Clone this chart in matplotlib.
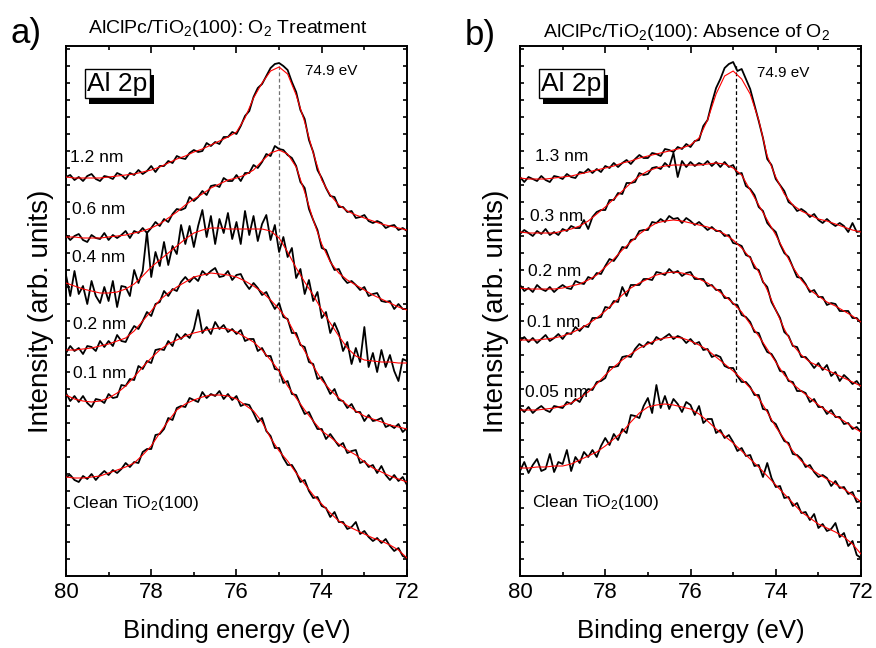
import numpy as np
import matplotlib.pyplot as plt
from matplotlib.ticker import MultipleLocator
from matplotlib import patheffects

plt.rcParams['font.family'] = ['Liberation Sans', 'DejaVu Sans']
plt.rcParams['mathtext.fontset'] = 'custom'
plt.rcParams['mathtext.rm'] = 'Liberation Sans'
plt.rcParams['mathtext.it'] = 'Liberation Sans:italic'

# binding energy grid (eV): measured points every 0.1 eV, fit curves every 0.2 eV
energy = np.linspace(80, 72, 81)
energy_fit = np.linspace(80, 72, 41)

# ---- panel a) O2 treatment, stacked Al 2p spectra (arb. units) ----
a_12nm = [399, 401, 396, 399, 395, 400, 402, 397, 395, 400, 399, 397, 403, 401, 397, 403, 401, 406, 402, 405,
          410, 404, 410, 410, 415, 413, 420, 418, 417, 423, 426, 424, 425, 433, 430, 434, 432, 439, 439, 444,
          442, 450, 460, 465, 479, 488, 492, 500, 508, 512, 513, 510, 506, 494, 484, 466, 457, 436, 424, 406,
          398, 388, 380, 379, 369, 369, 364, 365, 358, 359, 361, 355, 353, 355, 353, 348, 350, 351, 346, 348, 345]
a_12nm_fit = [399, 398, 398, 398, 398, 399, 400, 401, 402, 404, 406, 409, 413, 417, 420, 424, 427, 431, 435, 439,
              444, 458, 478, 493, 505, 509, 502, 481, 454, 423, 396, 381, 371, 365, 361, 358, 355, 352, 350, 348, 346]

a_06nm = [341, 336, 340, 342, 336, 334, 341, 338, 337, 343, 336, 341, 338, 341, 345, 338, 345, 343, 348, 343,
          348, 354, 350, 357, 354, 362, 367, 366, 368, 379, 375, 379, 385, 381, 390, 391, 389, 398, 395, 395,
          401, 395, 403, 403, 411, 408, 414, 422, 420, 430, 427, 426, 421, 418, 410, 394, 388, 367, 356, 346,
          328, 326, 315, 306, 307, 298, 293, 295, 291, 286, 289, 280, 282, 283, 275, 274, 275, 267, 272, 267, 267]
a_06nm_fit = [339, 339, 338, 338, 338, 339, 340, 341, 343, 345, 348, 352, 358, 364, 371, 377, 382, 388, 392, 396,
              398, 401, 406, 415, 423, 426, 422, 409, 384, 356, 332, 314, 303, 296, 291, 286, 281, 277, 273, 269, 266]

a_04nm = [301, 280, 305, 282, 290, 272, 295, 280, 273, 289, 275, 295, 269, 290, 289, 280, 306, 293, 305, 344,
          299, 324, 310, 334, 311, 330, 322, 351, 332, 350, 329, 350, 366, 339, 360, 332, 357, 343, 363, 337,
          354, 332, 365, 341, 360, 335, 352, 361, 336, 351, 324, 339, 319, 328, 298, 307, 282, 296, 275, 284,
          258, 264, 243, 253, 243, 225, 234, 212, 228, 214, 249, 209, 223, 204, 226, 209, 221, 205, 195, 217, 215]
a_04nm_fit = [293, 290, 287, 285, 283, 283, 284, 287, 292, 300, 309, 316, 323, 330, 337, 343, 346, 348, 348, 347,
              347, 347, 347, 347, 345, 338, 324, 308, 294, 281, 266, 253, 240, 228, 220, 216, 215, 214, 214, 213, 213]

a_02nm = [223, 230, 225, 228, 222, 230, 229, 225, 235, 229, 235, 230, 241, 235, 234, 243, 250, 247, 255, 264,
          260, 272, 274, 285, 280, 287, 285, 294, 299, 294, 299, 295, 305, 301, 305, 308, 299, 300, 305, 296,
          301, 302, 293, 287, 293, 288, 281, 284, 275, 267, 273, 259, 257, 243, 243, 231, 229, 214, 212, 197,
          199, 191, 182, 187, 176, 175, 168, 172, 164, 164, 155, 161, 155, 156, 158, 149, 151, 148, 152, 144, 148]
a_02nm_fit = [226, 226, 227, 228, 230, 232, 235, 238, 245, 255, 265, 276, 283, 289, 294, 299, 301, 303, 302, 301,
              299, 295, 290, 284, 276, 267, 256, 240, 225, 210, 196, 186, 178, 171, 165, 160, 157, 154, 151, 149, 147]

a_01nm = [183, 175, 180, 174, 180, 173, 169, 177, 176, 173, 182, 178, 179, 191, 190, 197, 196, 210, 207, 215,
          213, 226, 227, 226, 235, 230, 242, 237, 242, 238, 247, 266, 243, 249, 242, 254, 247, 251, 244, 247,
          242, 246, 235, 237, 237, 225, 228, 220, 220, 207, 206, 193, 195, 182, 181, 171, 162, 164, 155, 147,
          147, 137, 142, 136, 130, 133, 123, 125, 126, 113, 115, 109, 111, 103, 110, 101, 96, 101, 95, 99, 91]
a_01nm_fit = [181, 177, 175, 174, 175, 178, 183, 190, 199, 209, 218, 226, 232, 236, 240, 243, 245, 247, 248, 247,
              244, 239, 234, 226, 216, 205, 190, 178, 166, 155, 145, 139, 132, 126, 121, 114, 108, 104, 100, 97, 94]

a_clean = [99, 101, 96, 94, 100, 97, 102, 96, 101, 105, 101, 106, 103, 107, 113, 109, 114, 113, 124, 127,
           127, 141, 142, 147, 158, 156, 168, 170, 169, 178, 176, 174, 184, 178, 182, 180, 185, 177, 182, 176,
           180, 170, 172, 171, 163, 154, 158, 145, 140, 128, 128, 118, 111, 111, 104, 94, 96, 85, 78, 79,
           70, 68, 59, 64, 54, 54, 47, 49, 54, 42, 45, 39, 35, 38, 33, 37, 30, 25, 28, 20, 18]
a_clean_fit = [99, 98, 98, 99, 100, 103, 106, 109, 113, 121, 130, 143, 155, 166, 172, 176, 179, 181, 181, 180,
               177, 171, 165, 154, 138, 125, 115, 103, 92, 81, 72, 63, 55, 50, 46, 42, 38, 35, 31, 26, 18]

labels_a = ['1.2 nm', '0.6 nm', '0.4 nm', '0.2 nm', '0.1 nm', 'Clean TiO$_2$(100)']

# ---- panel b) absence of O2 ----
b_13nm = [399, 394, 399, 397, 395, 400, 396, 394, 400, 399, 397, 402, 399, 398, 404, 403, 407, 403, 407, 404,
          410, 408, 413, 409, 413, 416, 412, 417, 421, 418, 418, 423, 422, 420, 427, 426, 424, 429, 427, 432,
          429, 435, 436, 450, 456, 473, 488, 497, 508, 512, 514, 505, 507, 497, 487, 471, 455, 438, 417, 411,
          397, 391, 385, 374, 371, 365, 367, 364, 359, 362, 356, 353, 357, 353, 350, 353, 350, 344, 353, 344, 345]
b_13nm_fit = [398, 397, 397, 397, 398, 399, 400, 402, 404, 406, 408, 410, 413, 415, 418, 420, 422, 424, 426, 428,
              431, 438, 456, 482, 500, 505, 497, 482, 456, 420, 399, 382, 371, 365, 361, 357, 355, 352, 349, 346, 344]

b_03nm = [342, 346, 343, 340, 345, 342, 347, 341, 344, 341, 347, 345, 350, 348, 348, 356, 347, 359, 364, 366,
          366, 376, 376, 383, 382, 393, 393, 394, 403, 401, 402, 408, 409, 407, 413, 409, 423, 399, 415, 409,
          414, 410, 413, 411, 415, 410, 414, 409, 414, 409, 411, 402, 403, 390, 387, 381, 369, 365, 353, 348,
          344, 332, 323, 319, 309, 299, 298, 292, 284, 286, 279, 279, 271, 273, 272, 265, 265, 265, 258, 258, 253]
b_03nm_fit = [344, 343, 343, 343, 343, 345, 347, 350, 355, 362, 369, 377, 385, 393, 400, 405, 408, 410, 411, 411,
              411, 411, 412, 413, 412, 408, 401, 386, 371, 356, 341, 325, 309, 296, 286, 280, 274, 270, 265, 260, 254]

b_02nm = [291, 285, 288, 284, 291, 287, 285, 289, 284, 288, 291, 288, 287, 295, 293, 292, 299, 297, 303, 302,
          310, 317, 315, 321, 329, 328, 336, 337, 345, 346, 346, 354, 353, 357, 354, 360, 357, 358, 353, 358,
          355, 351, 354, 350, 346, 349, 345, 345, 340, 341, 333, 332, 330, 321, 319, 308, 306, 294, 289, 274,
          266, 258, 244, 240, 230, 229, 219, 219, 214, 208, 213, 206, 211, 200, 204, 195, 201, 197, 192, 195, 189]
b_02nm_fit = [288, 287, 287, 287, 287, 288, 290, 292, 296, 301, 309, 317, 326, 334, 342, 348, 353, 355, 356, 355,
              353, 351, 349, 346, 342, 336, 328, 318, 304, 286, 266, 247, 231, 221, 214, 210, 206, 202, 198, 194, 190]

b_01nm = [235, 239, 234, 238, 233, 237, 241, 235, 238, 242, 237, 243, 242, 249, 245, 250, 249, 258, 258, 259,
          269, 268, 275, 274, 289, 280, 291, 291, 291, 297, 297, 296, 304, 303, 301, 307, 303, 305, 300, 303,
          304, 297, 297, 297, 290, 291, 286, 286, 278, 278, 272, 271, 261, 259, 254, 244, 243, 232, 224, 222,
          215, 205, 204, 195, 194, 185, 185, 183, 174, 177, 169, 169, 162, 166, 159, 159, 152, 153, 147, 149, 144]
b_01nm_fit = [236, 236, 236, 237, 238, 240, 243, 247, 252, 258, 265, 273, 281, 288, 293, 297, 301, 303, 304, 303,
              301, 297, 293, 287, 280, 273, 264, 252, 240, 227, 214, 201, 192, 185, 178, 171, 165, 160, 155, 149, 144]

b_005nm = [168, 164, 169, 163, 167, 170, 166, 164, 170, 169, 168, 174, 172, 177, 174, 182, 187, 186, 194, 195,
           198, 209, 209, 210, 219, 220, 219, 227, 232, 229, 234, 232, 239, 236, 239, 242, 237, 240, 238, 233,
           237, 232, 234, 226, 227, 219, 221, 219, 210, 208, 208, 200, 194, 194, 189, 181, 181, 167, 166, 155,
           152, 143, 135, 133, 122, 121, 117, 109, 111, 104, 99, 101, 98, 90, 95, 88, 89, 82, 84, 74, 75]
b_005nm_fit = [166, 166, 166, 167, 168, 170, 173, 178, 184, 192, 201, 209, 216, 222, 228, 232, 236, 238, 239, 238,
               235, 231, 226, 219, 212, 205, 197, 188, 178, 164, 149, 137, 125, 115, 108, 102, 97, 92, 87, 81, 74]

b_clean = [105, 114, 103, 111, 117, 105, 107, 122, 104, 114, 112, 126, 105, 119, 113, 124, 119, 126, 119, 130,
           138, 131, 142, 136, 147, 143, 161, 160, 158, 170, 178, 163, 191, 168, 180, 167, 177, 172, 164, 174,
           171, 161, 170, 153, 157, 157, 143, 146, 138, 141, 134, 125, 128, 120, 121, 110, 111, 99, 113, 98,
           89, 90, 78, 79, 70, 73, 63, 64, 56, 62, 48, 52, 45, 47, 53, 39, 43, 30, 35, 21, 18]
b_clean_fit = [108, 108, 109, 109, 110, 110, 112, 116, 120, 124, 130, 137, 144, 154, 163, 169, 171, 172, 171, 169,
               167, 162, 155, 147, 140, 133, 125, 117, 109, 100, 91, 82, 73, 64, 58, 52, 48, 44, 39, 32, 22]

labels_b = ['1.3 nm', '0.3 nm', '0.2 nm', '0.1 nm', '0.05 nm', 'Clean TiO$_2$(100)']

# peak position marked by the dashed line (eV)
peak_a = 75.0
peak_b = 74.93


fig = plt.figure(figsize=(8.76, 6.48), dpi=100)
ax_a = fig.add_axes([0.0753, 0.1111, 0.3893, 0.8179])
ax_b = fig.add_axes([0.5936, 0.1111, 0.3893, 0.8179])


def draw_panel(ax, spectra, fits, labels, label_pos, peak, peak_color, peak_text_pos):
    # dashed marker of the main component
    ax.plot([peak, peak], [194, 512], color=peak_color, lw=0.9, ls=(0, (3, 2)), zorder=1)
    for y, f in zip(spectra, fits):
        ax.plot(energy, y, color='black', lw=1.3, zorder=2)
        ax.plot(energy_fit, f, color='red', lw=0.8, zorder=3)
    for lab, (x, y) in zip(labels, label_pos):
        ax.text(x, y, lab, fontsize=12.5, ha='left', va='center', zorder=4)
    ax.text(peak_text_pos[0], peak_text_pos[1], '74.9 eV', fontsize=11, ha='left', va='center')

    # Al 2p box with drop shadow
    box = ax.text(0.151, 0.929, 'Al 2p', transform=ax.transAxes, fontsize=19, ha='center', va='center',
                  bbox=dict(boxstyle='square,pad=0.1', fc='white', ec='black', lw=1))
    box.get_bbox_patch().set_path_effects(
        [patheffects.SimplePatchShadow(offset=(3, -4), shadow_rgbFace='black', alpha=1.0),
         patheffects.Normal()])

    ax.set_xlim(80, 72)
    ax.set_ylim(0, 530)
    ax.xaxis.set_major_locator(MultipleLocator(2))
    ax.xaxis.set_minor_locator(MultipleLocator(1))
    ax.yaxis.set_major_locator(MultipleLocator(17))
    ax.tick_params(which='both', direction='in', top=True, right=True, width=1.2)
    ax.tick_params(axis='x', which='major', length=5, labelsize=16, pad=4)
    ax.tick_params(axis='x', which='minor', length=3)
    ax.tick_params(axis='y', length=3, labelleft=False)
    for s in ax.spines.values():
        s.set_linewidth(1.4)
    ax.set_xlabel('Binding energy (eV)', fontsize=18.5)
    ax.xaxis.set_label_coords(0.5, -0.081)
    ax.set_ylabel('Intensity (arb. units)', fontsize=20)


draw_panel(ax_a,
           [a_12nm, a_06nm, a_04nm, a_02nm, a_01nm, a_clean],
           [a_12nm_fit, a_06nm_fit, a_04nm_fit, a_02nm_fit, a_01nm_fit, a_clean_fit],
           labels_a,
           [(79.9, 419), (79.86, 367), (79.86, 319), (79.84, 252), (79.84, 203), (79.86, 73)],
           peak_a, '0.45', (74.39, 505))
ax_a.yaxis.set_label_coords(-0.035, 0.5)
ax_a.text(0.475, 1 + 13 / 530, 'AlClPc/TiO$_2$(100): O$_2$ Treatment', transform=ax_a.transAxes,
          ha='center', va='baseline', fontsize=14)

draw_panel(ax_b,
           [b_13nm, b_03nm, b_02nm, b_01nm, b_005nm, b_clean],
           [b_13nm_fit, b_03nm_fit, b_02nm_fit, b_01nm_fit, b_005nm_fit, b_clean_fit],
           labels_b,
           [(79.65, 420), (79.77, 360), (79.81, 305), (79.84, 254), (79.88, 184), (79.72, 74)],
           peak_b, 'black', (74.44, 503))
ax_b.yaxis.set_label_coords(-0.032, 0.5)
ax_b.text(0.488, 1 + 9 / 530, 'AlClPc/TiO$_2$(100): Absence of O$_2$', transform=ax_b.transAxes,
          ha='center', va='baseline', fontsize=14)

fig.text(11 / 876, 1 - 43 / 648, 'a)', fontsize=25, ha='left', va='baseline')
fig.text(465 / 876, 1 - 45 / 648, 'b)', fontsize=25, ha='left', va='baseline')

fig.savefig('out.png', dpi=100)
